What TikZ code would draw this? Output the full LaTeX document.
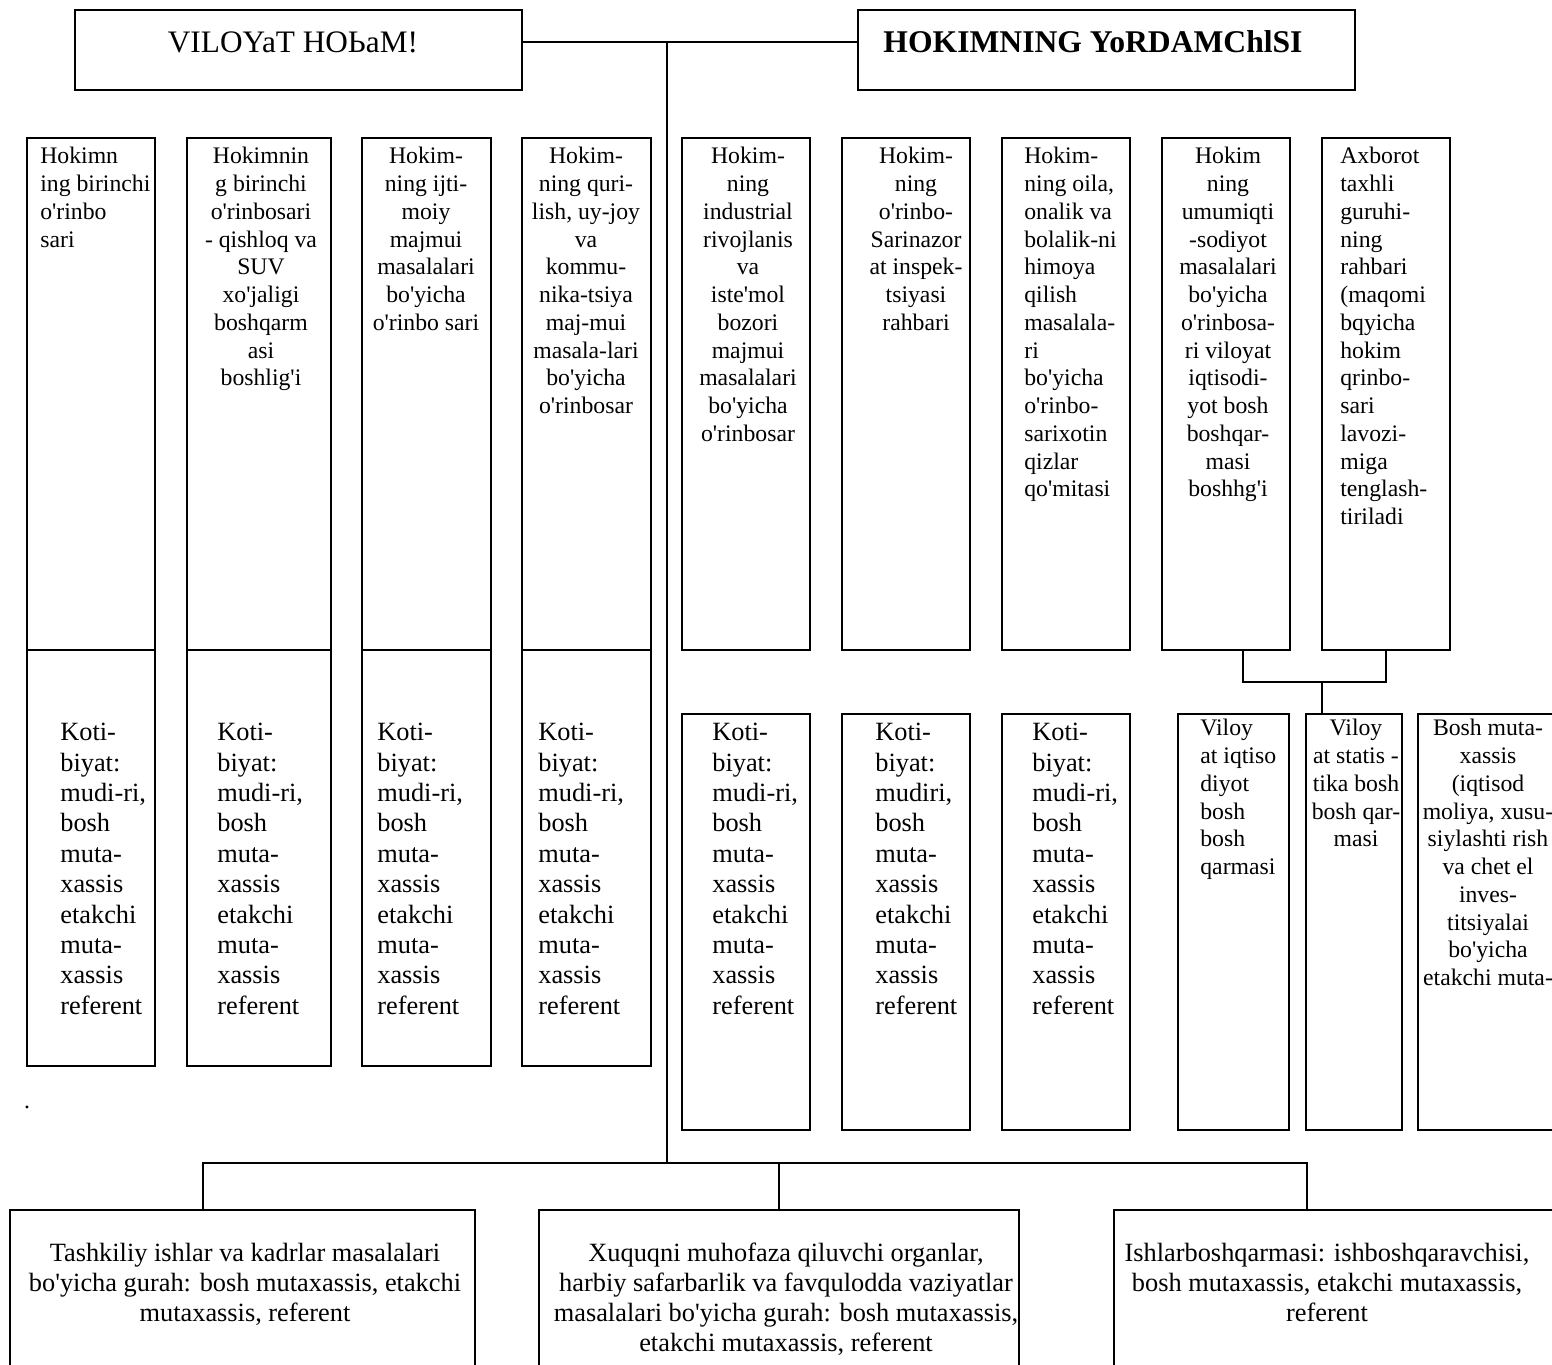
\documentclass[tikz,border=0pt]{standalone}
\usepackage{fontspec}
\setmainfont{Liberation Serif}[Ligatures=TeXOff]
\usetikzlibrary{calc,fit}
\newcommand{\kotibiyat}[1]{Koti-\\biyat:\\#1\\bosh\\muta-\\xassis\\etakchi\\muta-\\xassis\\referent}

\begin{document}
\begin{tikzpicture}[x=0.02cm, y=-0.02cm,
		box/.style={draw, line width=1.1pt, inner sep=0pt},
		link/.style={line width=1.1pt},
		upper/.style={inner sep=0pt, font=\fontsize{13.5}{15.8}\selectfont},
		upperl/.style={upper, anchor=north west, align=left},
		upperc/.style={upper, anchor=north, align=center},
		koti/.style={inner sep=0pt, anchor=north west, align=left, font=\fontsize{15}{17.3}\selectfont},
		group/.style={inner sep=0pt, anchor=north, align=center, font=\fontsize{15}{17}\selectfont}]
			%%%%% START %%%%%
			
			\useasboundingbox (0,0) rectangle (1552,1365);
			
			\node[box, fit={(75,10) (522,90)}] (head1) {};
			\node[box, fit={(858,10) (1355,90)}] (head2) {};
			\node[anchor=base, inner sep=0pt, font=\fontsize{17.8}{20}\selectfont] (head1t) at (293,53) {VILOYaT HOЬaM!};
			\node[anchor=base, inner sep=0pt, font=\fontsize{18}{20}\selectfont\bfseries] (head2t) at (1093,53) {HOKIMNING YoRDAMChlSI};
			
			\node[box, fit={(27,138) (155,650)}] (dep1) {};
			\node[box, fit={(187,138) (331,650)}] (dep2) {};
			\node[box, fit={(362,138) (491,650)}] (dep3) {};
			\node[box, fit={(522,138) (651,650)}] (dep4) {};
			\node[box, fit={(682,138) (810,650)}] (dep5) {};
			\node[box, fit={(842,138) (970,650)}] (dep6) {};
			\node[box, fit={(1002,138) (1130,650)}] (dep7) {};
			\node[box, fit={(1162,138) (1290,650)}] (dep8) {};
			\node[box, fit={(1322,138) (1450,650)}] (dep9) {};
			
			\node[upperl] (dep1t) at (40,147) {Hokimn\\ing birinchi\\o'rinbo\\sari};
			\node[upperc] (dep2t) at (261,147) {Hokimnin\\g birinchi\\o'rinbosari\\- qishloq va\\SUV\\xo'jaligi\\boshqarm\\asi\\boshlig'i};
			\node[upperc] (dep3t) at (426,147) {Hokim-\\ning ijti-\\moiy\\majmui\\masalalari\\bo'yicha\\o'rinbo sari};
			\node[upperc] (dep4t) at (586,147) {Hokim-\\ning quri-\\lish, uy-joy\\va\\kommu-\\nika-tsiya\\maj-mui\\masala-lari\\bo'yicha\\o'rinbosar};
			\node[upperc] (dep5t) at (748,147) {Hokim-\\ning\\industrial\\rivojlanis\\va\\iste'mol\\bozori\\majmui\\masalalari\\bo'yicha\\o'rinbosar};
			\node[upperc] (dep6t) at (916,147) {Hokim-\\ning\\o'rinbo-\\Sarinazor\\at inspek-\\tsiyasi\\rahbari};
			\node[upperl] (dep7t) at (1024,147) {Hokim-\\ning oila,\\onalik va\\bolalik-ni\\himoya\\qilish\\masalala-\\ri\\bo'yicha\\o'rinbo-\\sarixotin\\qizlar\\qo'mitasi};
			\node[upperc] (dep8t) at (1228,147) {Hokim\\ning\\umumiqti\\-sodiyot\\masalalari\\bo'yicha\\o'rinbosa-\\ri viloyat\\iqtisodi-\\yot bosh\\boshqar-\\masi\\boshhg'i};
			\node[upperl] (dep9t) at (1340,147) {Axborot\\taxhli\\guruhi-\\ning\\rahbari\\(maqomi\\bqyicha\\hokim\\qrinbo-\\sari\\lavozi-\\miga\\tenglash-\\tiriladi};
			
			\node[box, fit={(27,650) (155,1066)}] (sec1) {};
			\node[box, fit={(187,650) (331,1066)}] (sec2) {};
			\node[box, fit={(362,650) (491,1066)}] (sec3) {};
			\node[box, fit={(522,650) (651,1066)}] (sec4) {};
			\node[box, fit={(682,714) (810,1130)}] (sec5) {};
			\node[box, fit={(842,714) (970,1130)}] (sec6) {};
			\node[box, fit={(1002,714) (1130,1130)}] (sec7) {};
			
			\node[koti] (sec1t) at (60,723) {\kotibiyat{mudi-ri,}};
			\node[koti] (sec2t) at (217,723) {\kotibiyat{mudi-ri,}};
			\node[koti] (sec3t) at (377,723) {\kotibiyat{mudi-ri,}};
			\node[koti] (sec4t) at (538,723) {\kotibiyat{mudi-ri,}};
			\node[koti] (sec5t) at (712,723) {\kotibiyat{mudi-ri,}};
			\node[koti] (sec6t) at (875,723) {\kotibiyat{mudiri,}};
			\node[koti] (sec7t) at (1032,723) {\kotibiyat{mudi-ri,}};
			
			\node[box, fit={(1178,714) (1289,1130)}] (vil1) {};
			\node[box, fit={(1306,714) (1402,1130)}] (vil2) {};
			\node[box, fit={(1418,714) (1562,1130)}] (vil3) {};
			\node[upperl] (vil1t) at (1200,719) {Viloy\\at iqtiso\\diyot\\bosh\\bosh\\qarmasi};
			\node[upperc] (vil2t) at (1356,719) {Viloy\\at statis -\\tika bosh\\bosh qar-\\masi};
			\node[upperc] (vil3t) at (1488,719) {Bosh muta-\\xassis\\(iqtisod\\moliya, xusu-\\siylashti rish\\va chet el\\inves-\\titsiyalai\\bo'yicha\\etakchi muta-};
			
			\node[box, fit={(10,1210) (475,1380)}] (grp1) {};
			\node[box, fit={(539,1210) (1019,1380)}] (grp2) {};
			\node[box, fit={(1114,1210) (1562,1380)}] (grp3) {};
			\node[group] (grp1t) at (245,1243) {Tashkiliy ishlar va kadrlar masalalari\\bo'yicha gurah: bosh mutaxassis, etakchi\\mutaxassis, referent};
			\node[group] (grp2t) at (786,1243) {Xuquqni muhofaza qiluvchi organlar,\\harbiy safarbarlik va favqulodda vaziyatlar\\masalalari bo'yicha gurah: bosh mutaxassis,\\etakchi mutaxassis, referent};
			\node[group] (grp3t) at (1327,1243) {Ishlarboshqarmasi: ishboshqaravchisi,\\bosh mutaxassis, etakchi mutaxassis,\\referent};
			
			\node[upper, anchor=base] (dot) at (27,1108) {.};
			
			% lines
			\coordinate (trunktop) at (667,42);
			\coordinate (trunkbot) at (667,1163);
			\coordinate (bar1) at (203,1163);
			\coordinate (bar3) at (1307,1163);
			\coordinate (joinl) at (1243,682);
			\coordinate (join) at (1322,682);
			
			\draw[link] (head1.east |- trunktop) -- (head2.west |- trunktop);
			\draw[link] (trunktop) -- (trunkbot);
			\draw[link] (bar1 |- grp1.north) -- (bar1) -- (bar3) -- (bar3 |- grp3.north);
			\draw[link] (grp2.north) -- (grp2.north |- bar1);
			\draw[link] (dep8.south -| joinl) -- (joinl) -| (dep9.south);
			\draw[link] (join) -- (join |- vil2.north);
			
			%%%%% END %%%%%
		\end{tikzpicture}
\end{document}
